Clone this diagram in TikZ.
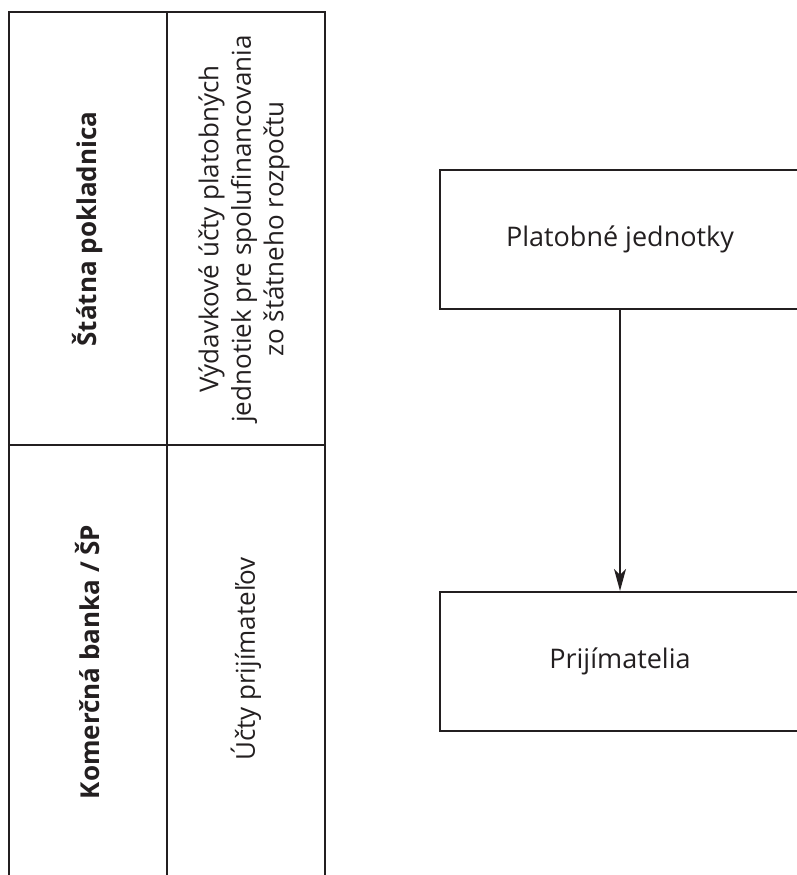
\documentclass[tikz,border=0pt]{standalone}
\usepackage{fontspec}
\setmainfont{Open Sans}
\usetikzlibrary{arrows.meta}
\definecolor{ink}{HTML}{231F20}
\begin{document}
\begin{tikzpicture}[x=1pt,y=-1pt,
  rule/.style={ink,line width=2.2pt},
  headtext/.style={rotate=90,font=\fontsize{26}{31}\selectfont\bfseries,text=ink},
  celltext/.style={rotate=90,align=center,font=\fontsize{26}{32.5}\selectfont,text=ink},
  unitbox/.style={draw=ink,line width=2.2pt,minimum width=360pt,minimum height=139pt,
    font=\fontsize{27}{32}\selectfont,text=ink},
  flow/.style={ink,line width=1.8pt,-{Stealth[length=22pt,width=12pt,inset=6pt]}}]
\useasboundingbox (0,0) rectangle (797,875);
\clip (0,0) rectangle (797,875);

% Table on the left
\draw[rule] (9,875) -- (9,12) -- (325,12) -- (325,875);
\draw[rule] (167,12) -- (167,875);
\draw[rule] (9,445) -- (325,445);
\node[headtext] (treasury) at (88,229) {Štátna pokladnica};
\node[headtext] (bank) at (88,662) {Komerčná banka / ŠP};
\node[celltext] (expacc) at (244,229) {Výdavkové účty platobných\\jednotiek pre spolufinancovania\\zo štátneho rozpočtu};
\node[celltext] (recacc) at (246,659) {Účty prijímateľov};

% Flow on the right
\node[unitbox] (units) at (620,239.5) {Platobné jednotky};
\node[unitbox] (recip) at (620,661.5) {Prijímatelia};
\draw[flow] (units) -- (recip);
\end{tikzpicture}
\end{document}
